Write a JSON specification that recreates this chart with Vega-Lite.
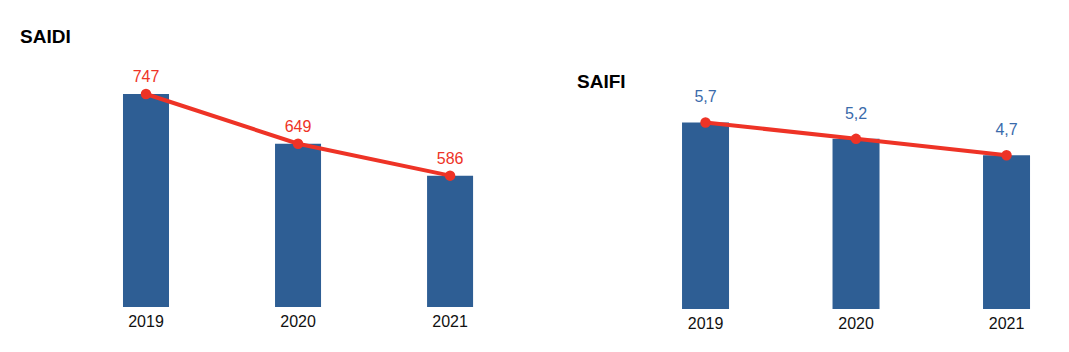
{
  "$schema": "https://vega.github.io/schema/vega-lite/v6.json",
  "padding": {"left": 20, "top": 28, "right": 0, "bottom": 0},
  "background": "white",
  "datasets": {
    "saidi": [
      {"year": "2019", "value": 747},
      {"year": "2020", "value": 649},
      {"year": "2021", "value": 586}
    ],
    "saifi": [
      {"year": "2019", "value": 5.7},
      {"year": "2020", "value": 5.2},
      {"year": "2021", "value": 4.7}
    ]
  },
  "config": {
    "view": {"stroke": null},
    "font": "Liberation Sans",
    "locale": {"number": {"decimal": ",", "thousands": ".", "grouping": [3], "currency": ["", " €"]}},
    "title": {"font": "Liberation Sans", "fontSize": 19, "fontWeight": "bold", "color": "#000000", "anchor": "start", "frame": "group"},
    "axisX": {"title": null, "labelAngle": 0, "ticks": false, "domain": false, "grid": false, "labelFontSize": 16, "labelColor": "#111111", "labelPadding": 6, "labelFont": "Liberation Sans"}
  },
  "bounds": "flush",
  "spacing": 57,
  "hconcat": [
    {
      "title": {"text": "SAIDI", "offset": 12},
      "width": 500,
      "height": 248,
      "data": {"name": "saidi"},
      "encoding": {
        "x": {"field": "year", "type": "ordinal", "scale": {"paddingInner": 0.6974, "paddingOuter": 0.493, "align": 0.687}},
        "y": {"field": "value", "type": "quantitative", "scale": {"domain": [327, 816], "zero": false}, "axis": null}
      },
      "layer": [
        {"mark": {"type": "bar", "color": "#2e5e94"}, "encoding": {"y2": {"datum": 327}}},
        {"mark": {"type": "line", "color": "#ee3326", "strokeWidth": 4}},
        {"mark": {"type": "point", "filled": true, "color": "#ee3326", "size": 110, "opacity": 1}},
        {"mark": {"type": "text", "color": "#ee3326", "fontSize": 16, "dy": -12, "baseline": "alphabetic"}, "encoding": {"text": {"field": "value", "type": "quantitative", "format": "d"}}}
      ]
    },
    {
      "title": {"text": "SAIFI", "offset": -33},
      "width": 483,
      "height": 250,
      "data": {"name": "saifi"},
      "encoding": {
        "x": {"field": "year", "type": "ordinal", "scale": {"paddingInner": 0.6877, "paddingOuter": 0.4485, "align": 0.778}},
        "y": {"field": "value", "type": "quantitative", "scale": {"domain": [0, 7.64]}, "axis": null}
      },
      "layer": [
        {"mark": {"type": "bar", "color": "#2e5e94"}},
        {"mark": {"type": "line", "color": "#ee3326", "strokeWidth": 4}},
        {"mark": {"type": "point", "filled": true, "color": "#ee3326", "size": 110, "opacity": 1}},
        {"mark": {"type": "text", "color": "#3a6bab", "fontSize": 16, "dy": -20, "baseline": "alphabetic"}, "encoding": {"text": {"field": "value", "type": "quantitative", "format": ".1f"}}}
      ]
    }
  ]
}
